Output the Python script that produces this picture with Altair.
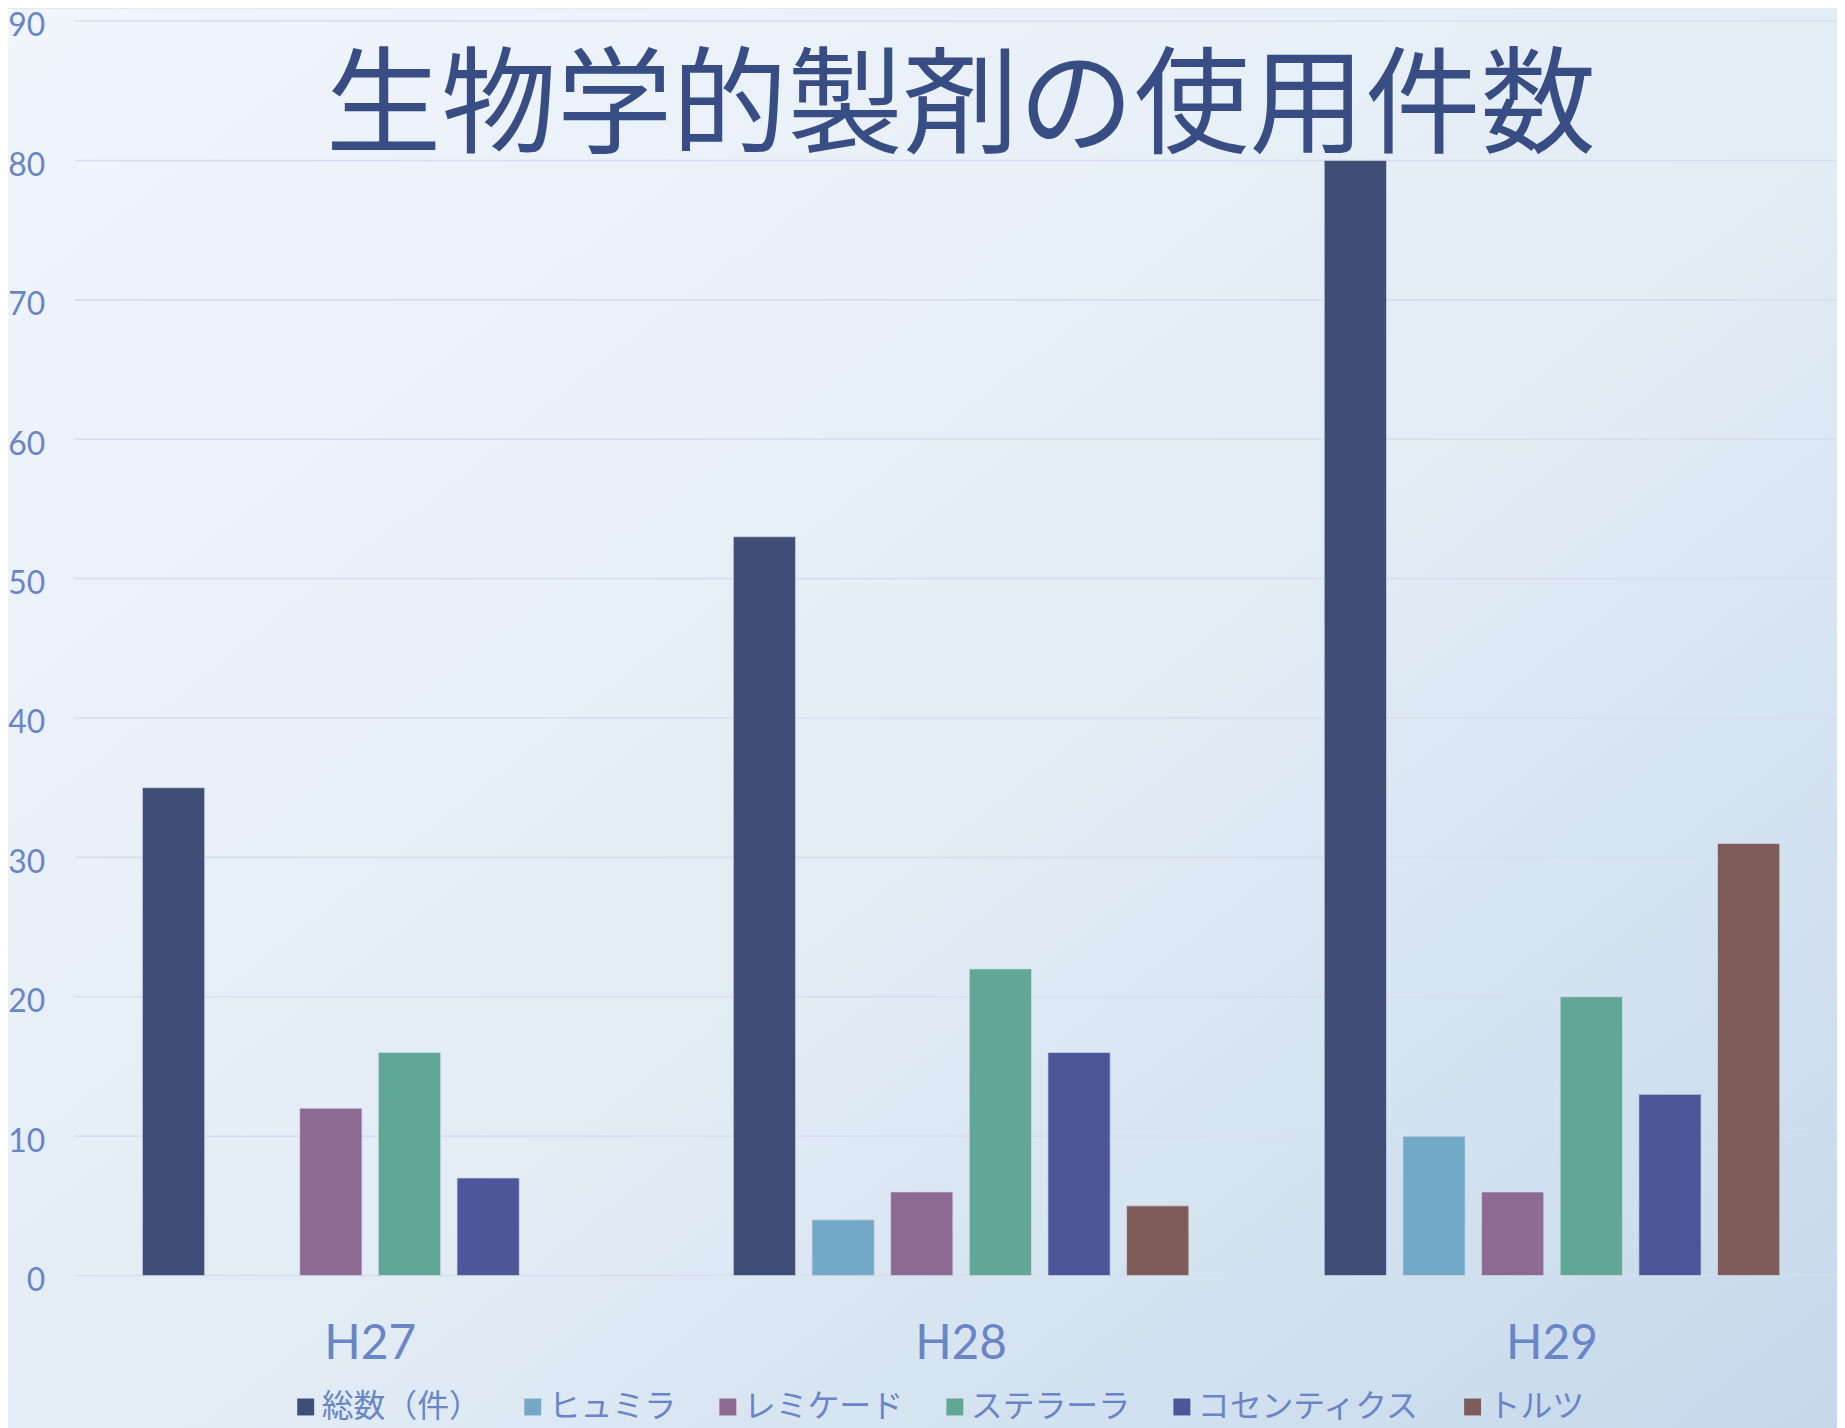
import altair as alt
import pandas as pd

years = ["H27", "H28", "H29"]
series = ["総数（件）", "ヒュミラ", "レミケード", "ステラーラ", "コセンティクス", "トルツ"]
h27 = [35, None, 12, 16, 7, None]
h28 = [53, 4, 6, 22, 16, 5]
h29 = [80, 10, 6, 20, 13, 31]
colors = ["#404e77", "#72a9c6", "#8d6a91", "#60a895", "#4d5698", "#7e5c5a"]
y_ticks = [0, 10, 20, 30, 40, 50, 60, 70, 80, 90]
title_text = "生物学的製剤の使用件数"

rows = []
for yr, vals in zip(years, [h27, h28, h29]):
    for s, v in zip(series, vals):
        if v is not None:
            rows.append({"year": yr, "series": s, "value": v})
df = pd.DataFrame(rows)
grid_df = pd.DataFrame({"tick": y_ticks})

label_color = "#6a85c6"
PLOT_W = 1770
PLOT_H = 1260

bg = alt.Chart(alt.Data(values=[{"a": 1}])).mark_rect(
    fill=alt.Gradient(
        gradient="linear",
        stops=[
            alt.GradientStop(color="#f1f5fc", offset=0),
            alt.GradientStop(color="#e2ecf5", offset=0.55),
            alt.GradientStop(color="#c4d8ea", offset=1),
        ],
        x1=0, y1=0, x2=1, y2=1,
    )
).encode(
    x=alt.value(-70), x2=alt.value(PLOT_W + 5),
    y=alt.value(-12), y2=alt.value(1430),
)

yscale = alt.Scale(domain=[0, 90], nice=False)

grid = alt.Chart(grid_df).mark_rule(color="#d6deee", strokeWidth=1.6).encode(
    y=alt.Y("tick:Q", scale=yscale),
    x=alt.value(0), x2=alt.value(PLOT_W),
)

bars = alt.Chart(df).mark_bar(
    stroke="#d3d9e8", strokeWidth=1, strokeOpacity=0.7
).encode(
    x=alt.X("year:N", sort=years,
            scale=alt.Scale(range=[0, 1780.5], paddingInner=0, paddingOuter=0),
            axis=alt.Axis(title=None, labelAngle=0, labelFontSize=48, labelColor=label_color,
                          labelFont="Lato", domain=False, ticks=False, tickSize=0,
                          labelPadding=69, labelBaseline="middle", grid=False, zindex=1)),
    xOffset=alt.XOffset("series:N", sort=series,
                        scale=alt.Scale(domain=series, paddingInner=0.209, paddingOuter=0.861)),
    y=alt.Y("value:Q", scale=yscale,
            axis=alt.Axis(title=None, values=y_ticks, labelFontSize=32, labelColor=label_color,
                          labelFont="Lato", domain=False, ticks=False, tickSize=0,
                          labelPadding=30, labelOffset=5, grid=False, zindex=1)),
    color=alt.Color("series:N", sort=series,
                    scale=alt.Scale(domain=series, range=colors),
                    legend=alt.Legend(title=None, orient="none", legendX=216, legendY=1376,
                                      direction="horizontal", columns=6, symbolType="square",
                                      symbolSize=289, symbolStrokeWidth=0, labelFontSize=32,
                                      labelFont="Noto Sans CJK JP", labelColor=label_color,
                                      labelOffset=0, columnPadding=35, labelLimit=400,
                                      padding=0)),
)

title = alt.Chart(alt.Data(values=[{"t": title_text}])).mark_text(
    fontSize=116, font="Noto Sans CJK JP", fontWeight="normal", color="#374d83",
    align="center", baseline="middle",
).encode(
    text="t:N",
    x=alt.value(890), y=alt.value(88),
)

chart = alt.layer(bg, grid, bars, title).properties(
    width=PLOT_W,
    height=PLOT_H,
    padding={"left": 67, "top": 10, "right": 0, "bottom": 150},
    autosize=alt.AutoSizeParams(type="none"),
    background="#dfe9f3",
).configure_view(stroke=None)

chart.save("out.html", embed_options={"renderer": "svg", "actions": False})
